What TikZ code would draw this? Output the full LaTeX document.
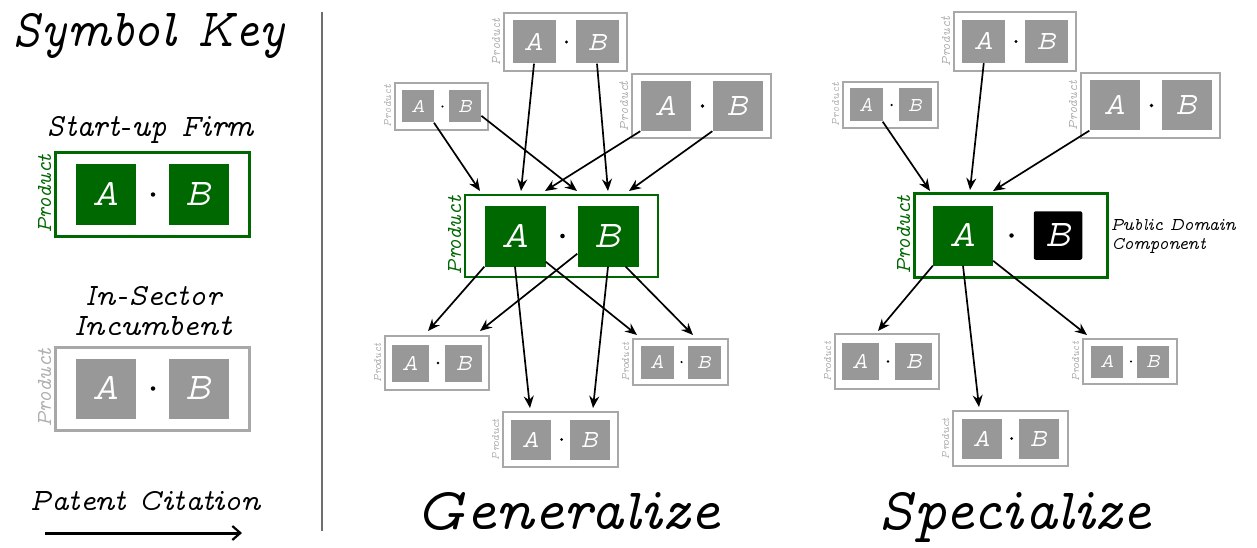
\documentclass[tikz,border=0pt]{standalone}
\usepackage{graphicx}
\usetikzlibrary{arrows.meta,calc}
\DeclareFontFamily{OT1}{myvtt}{\hyphenchar\font=-1}
\DeclareFontShape{OT1}{myvtt}{m}{it}{<-> cmvtti10}{}
\definecolor{dgreen}{RGB}{0,104,0}
\definecolor{sqgray}{RGB}{152,152,152}
\definecolor{framegray}{RGB}{168,168,168}
\definecolor{labgray}{RGB}{175,175,175}
\definecolor{sepgray}{RGB}{110,110,110}
\newcommand\tw{\fontencoding{OT1}\fontfamily{myvtt}\fontseries{m}\fontshape{it}\selectfont}
\newcommand\fsz[1]{\fontsize{#1}{#1}\selectfont}
\newcommand\sx[2]{\scalebox{#1}[1]{#2}}
\tikzset{
 grayframe/.style={draw=framegray, fill=white},
 greenframe/.style={draw=dgreen, fill=white},
 pubframe/.style={draw=dgreen, fill=white},
 grayA/.style={fill=sqgray}, grayB/.style={fill=sqgray},
 greenA/.style={fill=dgreen}, greenB/.style={fill=dgreen},
 pubA/.style={fill=dgreen}, pubB/.style={fill=black, minimum size=48.5pt, rounded corners=2pt},
 graylab/.style={text=labgray}, greenlab/.style={text=dgreen}, publab/.style={text=dgreen},
 sqnode/.style={inner sep=0pt, text=white},
 conn/.style={draw=black, line width=1.7pt, -{Stealth[length=12pt,width=10pt,inset=4pt]}},
 ttl/.style={inner sep=0pt, anchor=base},
}
\newcommand\pbox[9]{%
 \pgfmathsetmacro\pbL{1.2+1.8*#5/83}%
 \pgfmathsetmacro\pbF{0.62*#6}%
 \pgfmathsetmacro\pbD{max(1.8,4.5*#6/60)}%
 \node[#9frame, inner sep=0pt, minimum width=#4pt, minimum height=#5pt, line width=\pbL pt] (#1) at (#2,#3) {};
 \node[sqnode, minimum size=#6pt, #9A, font=\tw\fsz{\pbF}] (#1A) at ({#2-#7},#3) {\sx{0.92}{A}};
 \node[sqnode, minimum size=#6pt, #9B, font=\tw\fsz{\pbF}] (#1B) at ({#2+#7},#3) {\sx{0.92}{B}};
 \node[circle, fill=black, inner sep=0pt, minimum size=\pbD pt] (#1d) at ({#2+1},#3) {};
 \node[#9lab, rotate=90, anchor=south, inner sep=0pt, font=\tw\fsz{#8}] (#1p) at ({#2-#4/2-3},#3) {\sx{0.9}{Product}};
}
\begin{document}
\begin{tikzpicture}[x=1pt,y=-1pt]
\fill[white] (0,0) rectangle (1257,548);
\useasboundingbox (0,0) rectangle (1257,548);

% ---------- key ----------
\node[ttl, anchor=base west, font=\tw\fsz{54}] (title) at (11,47) {\sx{0.84}{Symbol Key}};
\node[ttl, font=\tw\fsz{32}] (su) at (150,137) {\sx{0.89}{Start-up Firm}};
\pbox{kS}{152}{194.5}{194}{83}{60}{46.5}{22}{green}
\node[ttl, font=\tw\fsz{31}] (is1) at (153,305) {\sx{0.93}{In-Sector}};
\node[ttl, font=\tw\fsz{31}] (is2) at (152,335) {\sx{0.95}{Incumbent}};
\pbox{kI}{152}{388.5}{194}{83}{60}{46.5}{22}{gray}
\node[ttl, font=\tw\fsz{31}] (pc) at (145,510) {\sx{0.92}{Patent Citation}};
\coordinate (ka) at (45,533);
\coordinate (kb) at (242,533);
\draw[line width=3pt, -{Straight Barb[length=8pt,width=14pt,line width=2.2pt]}] (ka) -- (kb);

% separator
\coordinate (v1) at (322,12);
\coordinate (v2) at (322,531);
\draw[sepgray, line width=1.5pt] (v1) -- (v2);

% ---------- generalize ----------
\pbox{gT}{565.5}{42}{123}{58}{43}{31.5}{13}{gray}
\pbox{gL}{441.5}{106.5}{93}{47}{32}{23.75}{12}{gray}
\pbox{gR}{701.5}{106}{139}{64}{50}{36}{14}{gray}
\pbox{gC}{561.5}{236}{193}{82}{61}{46.5}{22}{green}
\pbox{gBL}{437}{363}{104}{54}{37}{26.75}{11}{gray}
\pbox{gBM}{560.5}{439.5}{115}{55}{40}{29.25}{11.5}{gray}
\pbox{gBR}{680.5}{362}{95}{46}{33}{23.5}{11}{gray}
\node[ttl, font=\tw\fsz{60}] (gen) at (568,529) {\sx{0.93}{Generalize}};

\coordinate (gi1) at (480,191);
\coordinate (gi2) at (577,191);
\coordinate (gi3) at (521,191);
\coordinate (gi4) at (608,191);
\coordinate (gi5) at (545,191);
\coordinate (gi6) at (629,191);
\coordinate (go1) at (428,331);
\coordinate (go2) at (480,331);
\coordinate (go3) at (530,408);
\coordinate (go4) at (593,408);
\coordinate (go5) at (637,335);
\coordinate (go6) at (693,335);
\draw[conn] (gLA.south east) -- (gi1);
\draw[conn] (gLB.-30) -- (gi2);
\draw[conn] (gTA.south) -- (gi3);
\draw[conn] (gTB.south) -- (gi4);
\draw[conn] (gRA.south west) -- (gi5);
\draw[conn] (gRB.south west) -- (gi6);
\draw[conn] (gCA.south west) -- (go1);
\draw[conn] (gCB.-150) -- (go2);
\draw[conn] (gCA.south) -- (go3);
\draw[conn] (gCB.south) -- (go4);
\draw[conn] (gCA.-40) -- (go5);
\draw[conn] (gCB.-60) -- (go6);

% ---------- specialize ----------
\pbox{sT}{1015}{41.5}{122}{59}{43}{31.25}{14}{gray}
\pbox{sL}{890.5}{105}{95}{46}{33}{24.5}{12}{gray}
\pbox{sR}{1150.5}{105.5}{139}{65}{50}{36}{13.7}{gray}
\pbox{sC}{1010.5}{235.5}{193}{84}{60}{47.5}{22}{pub}
\pbox{sBL}{887}{361.5}{104}{55}{37}{26.75}{11}{gray}
\pbox{sBM}{1010.5}{438.5}{115}{55}{40}{28.75}{11.5}{gray}
\pbox{sBR}{1130}{361.5}{94}{45}{32}{23.25}{11}{gray}
\node[ttl, anchor=base west, font=\tw\fsz{18}] (pd1) at (1111,230) {\sx{0.9}{Public Domain}};
\node[ttl, anchor=base west, font=\tw\fsz{18}] (pd2) at (1111,249) {\sx{0.9}{Component}};
\node[ttl, font=\tw\fsz{60}] (spe) at (1015,529) {\sx{0.92}{Specialize}};

\coordinate (si1) at (930,191);
\coordinate (si2) at (970,190);
\coordinate (si3) at (993,191);
\coordinate (so1) at (878,331);
\coordinate (so2) at (979,407);
\coordinate (so3) at (1087,335);
\draw[conn] (sLA.south east) -- (si1);
\draw[conn] (sTA.south) -- (si2);
\draw[conn] (sRA.south west) -- (si3);
\draw[conn] (sCA.south west) -- (so1);
\draw[conn] (sCA.south) -- (so2);
\draw[conn] (sCA.-40) -- (so3);
\end{tikzpicture}
\end{document}
